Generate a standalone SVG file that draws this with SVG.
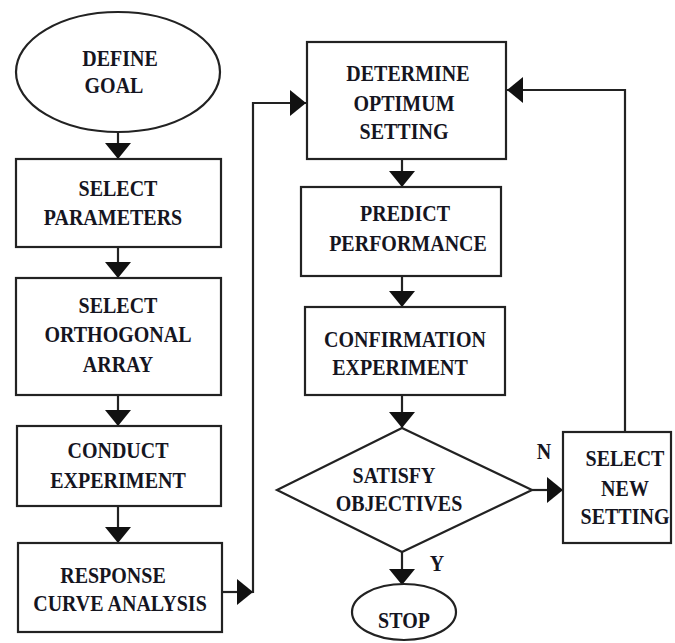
<svg xmlns="http://www.w3.org/2000/svg" width="675" height="643" viewBox="0 0 675 643">
<style>
.n{fill:#fff;stroke:#222;stroke-width:2.2}
.t{font-family:"Liberation Serif","Times New Roman",serif;font-weight:bold;font-size:20px;fill:#15151f;text-anchor:middle;transform-box:fill-box;transform-origin:center;transform:scaleY(1.14)}
.c{fill:none;stroke:#222;stroke-width:2.2}
</style>
<defs>
<marker id="ah" markerUnits="userSpaceOnUse" markerWidth="17" markerHeight="28" refX="16" refY="13" orient="auto">
<path d="M0,0 L16,13 L0,26 z" fill="#111"/>
</marker>
</defs>
<rect width="675" height="643" fill="#fff"/>
<g id="connectors">
<path class="c" d="M118,132 V159" marker-end="url(#ah)"/>
<path class="c" d="M118,247 V278" marker-end="url(#ah)"/>
<path class="c" d="M118,395 V426" marker-end="url(#ah)"/>
<path class="c" d="M118,506 V543" marker-end="url(#ah)"/>
<path class="c" d="M222,592 H253" marker-end="url(#ah)"/>
<path class="c" d="M253,593 V103 H306" marker-end="url(#ah)"/>
<path class="c" d="M402,159 V187" marker-end="url(#ah)"/>
<path class="c" d="M402,276 V307" marker-end="url(#ah)"/>
<path class="c" d="M402,395 V428" marker-end="url(#ah)"/>
<path class="c" d="M532,490 H563" marker-end="url(#ah)"/>
<path class="c" d="M625,432 V90 H507" marker-end="url(#ah)"/>
<path class="c" d="M402,552 V585" marker-end="url(#ah)"/>
<text class="t" x="544" y="458">N</text>
<text class="t" x="437" y="570">Y</text>
</g>
<g id="define-goal">
<ellipse class="n" cx="118" cy="72" rx="102" ry="60"/>
<text class="t" x="120" y="65">DEFINE</text>
<text class="t" x="114" y="92">GOAL</text>
</g>
<g id="select-parameters">
<rect class="n" x="16" y="159" width="205" height="88"/>
<text class="t" x="118" y="195">SELECT</text>
<text class="t" x="113" y="224">PARAMETERS</text>
</g>
<g id="select-orthogonal-array">
<rect class="n" x="16" y="278" width="205" height="117"/>
<text class="t" x="118" y="312">SELECT</text>
<text class="t" x="118" y="341">ORTHOGONAL</text>
<text class="t" x="118" y="371">ARRAY</text>
</g>
<g id="conduct-experiment">
<rect class="n" x="17" y="426" width="204" height="80"/>
<text class="t" x="118" y="457">CONDUCT</text>
<text class="t" x="118" y="487">EXPERIMENT</text>
</g>
<g id="response-curve-analysis">
<rect class="n" x="18" y="543" width="204" height="89"/>
<text class="t" x="113" y="582">RESPONSE</text>
<text class="t" x="120" y="610">CURVE ANALYSIS</text>
</g>
<g id="determine-optimum-setting">
<rect class="n" x="307" y="42" width="199" height="117"/>
<text class="t" x="408" y="80">DETERMINE</text>
<text class="t" x="404" y="110">OPTIMUM</text>
<text class="t" x="404" y="138">SETTING</text>
</g>
<g id="predict-performance">
<rect class="n" x="301" y="187" width="200" height="89"/>
<text class="t" x="405" y="220">PREDICT</text>
<text class="t" x="408" y="250">PERFORMANCE</text>
</g>
<g id="confirmation-experiment">
<rect class="n" x="305" y="307" width="200" height="88"/>
<text class="t" x="405" y="346">CONFIRMATION</text>
<text class="t" x="400" y="374">EXPERIMENT</text>
</g>
<g id="satisfy-objectives">
<polygon class="n" points="402,428 532,490 402,552 277,490"/>
<text class="t" x="394" y="482">SATISFY</text>
<text class="t" x="399" y="510">OBJECTIVES</text>
</g>
<g id="select-new-setting">
<rect class="n" x="563" y="432" width="108" height="111"/>
<text class="t" x="625" y="465">SELECT</text>
<text class="t" x="625" y="495">NEW</text>
<text class="t" x="625" y="523">SETTING</text>
</g>
<g id="stop">
<ellipse class="n" cx="404" cy="612" rx="52" ry="28"/>
<text class="t" x="404" y="627">STOP</text>
</g>
</svg>
